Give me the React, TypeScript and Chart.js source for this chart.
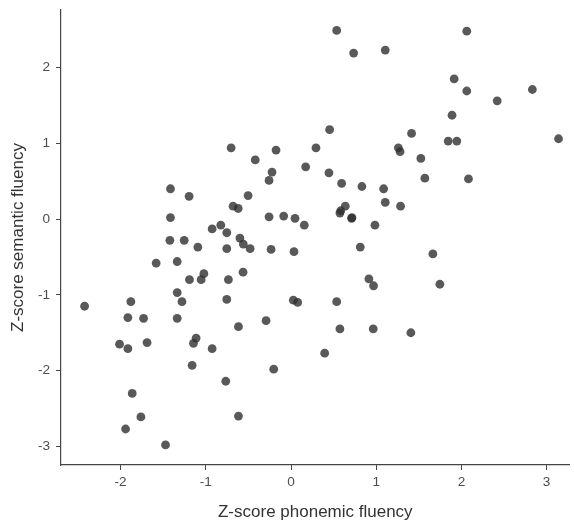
import React, { useEffect, useRef } from "react";
import { Chart, registerables } from "chart.js";

Chart.register(...registerables);

// Z-score phonemic fluency (x) and Z-score semantic fluency (y)
const phonemic: number[] = [
  0.536, 0.735, 1.106, 0.453, 1.26, 1.28, 0.293, -0.176, -0.42, 0.172,
  -0.223, -0.258, 0.445, 0.594, 0.832, 1.087, -0.504, -0.68, -0.62, 1.106,
  1.286, 0.637, 0.583, 0.574, 0.711, 0.715, -0.258, -0.086, 0.047, 0.156,
  0.985, -0.6, -0.56, -0.48, -0.234, 0.035, 0.813, -0.563, 0.914, 0.969,
  2.063, 1.915, 2.063, 2.833, 2.42, 1.89, 1.415, 1.845, 1.946, 3.14,
  1.524, 1.571, 2.083, 1.665, 1.747, -0.703, -1.415, -1.196, -1.415, -0.926,
  -0.824, -0.754, -1.422, -1.254, -1.094, -0.754, -1.583, -1.336, -1.023, -1.055,
  -1.192, -0.735, -1.336, -2.423, -1.88, -1.28, -0.754, -1.915, -1.731, -1.336,
  -0.617, -2.013, -1.915, -1.69, -1.114, -1.145, -0.926, -1.161, -0.766, -1.864,
  -1.762, -0.617, -1.942, -1.473, 0.027, 0.078, 0.536, -0.293, 0.574, 0.965,
  0.395, -0.203, 1.407,
];
const semantic: number[] = [
  2.49, 2.19, 2.23, 1.18, 0.94, 0.89, 0.94, 0.91, 0.78, 0.69,
  0.62, 0.51, 0.61, 0.47, 0.43, 0.4, 0.31, 0.17, 0.14, 0.22,
  0.17, 0.17, 0.11, 0.08, 0.01, 0.02, 0.03, 0.04, 0.01, -0.08,
  -0.08, -0.25, -0.33, -0.39, -0.4, -0.43, -0.37, -0.7, -0.79, -0.88,
  2.48, 1.85, 1.69, 1.71, 1.56, 1.37, 1.13, 1.03, 1.03, 1.06,
  0.8, 0.54, 0.53, -0.46, -0.86, 0.94, 0.4, 0.3, 0.02, -0.13,
  -0.08, -0.18, -0.28, -0.28, -0.37, -0.39, -0.58, -0.56, -0.72, -0.8,
  -0.8, -0.8, -0.97, -1.15, -1.09, -1.09, -1.06, -1.3, -1.31, -1.31,
  -1.42, -1.65, -1.71, -1.63, -1.57, -1.64, -1.71, -1.93, -2.14, -2.3,
  -2.61, -2.6, -2.77, -2.98, -1.07, -1.1, -1.09, -1.34, -1.45, -1.45,
  -1.77, -1.98, -1.5,
];

const xTicks: number[] = [-2, -1, 0, 1, 2, 3];
const yTicks: number[] = [-3, -2, -1, 0, 1, 2];
const xTitle = "Z-score phonemic fluency";
const yTitle = "Z-score semantic fluency";

export default function App() {
  const ref = useRef<HTMLCanvasElement | null>(null);

  useEffect(() => {
    if (!ref.current) return;
    const data = phonemic.map((x, i) => ({ x, y: semantic[i] }));
    const tickFont = { family: "'Liberation Sans', Arial, sans-serif", size: 13.6 };
    const titleFont = { family: "'Liberation Sans', Arial, sans-serif", size: 17 };
    const chart = new Chart(ref.current, {
      type: "scatter",
      data: {
        datasets: [
          {
            data,
            backgroundColor: "rgba(48,48,48,0.8)",
            borderWidth: 0,
            pointRadius: 4.4,
            pointHoverRadius: 4.4,
          },
        ],
      },
      options: {
        responsive: false,
        animation: false,
        devicePixelRatio: 1,
        layout: { padding: { left: 0, top: 10, right: 4, bottom: 0 } },
        plugins: { legend: { display: false }, tooltip: { enabled: false } },
        scales: {
          x: {
            type: "linear",
            min: -2.7,
            max: 3.27,
            afterBuildTicks: (axis: any) => {
              axis.ticks = xTicks.map((v) => ({ value: v }));
            },
            afterFit: (axis: any) => {
              axis.height = 58;
              axis.paddingLeft = 0;
              axis.paddingRight = 0;
            },
            ticks: { color: "#4d4d4d", font: tickFont, padding: 4, maxRotation: 0 },
            grid: {
              drawOnChartArea: false,
              drawTicks: true,
              tickLength: 5,
              tickColor: "#444",
              tickWidth: 1,
            },
            border: { display: true, color: "#444", width: 1.2 },
            title: {
              display: true,
              text: xTitle,
              color: "#333",
              font: titleFont,
              padding: { top: 2, bottom: 0 },
            },
          },
          y: {
            type: "linear",
            min: -3.245,
            max: 2.759,
            afterBuildTicks: (axis: any) => {
              axis.ticks = yTicks.map((v) => ({ value: v }));
            },
            afterFit: (axis: any) => {
              axis.width = 61;
              axis.paddingTop = 0;
              axis.paddingBottom = 0;
            },
            ticks: { color: "#4d4d4d", font: tickFont, padding: 6 },
            grid: {
              drawOnChartArea: false,
              drawTicks: true,
              tickLength: 5,
              tickColor: "#444",
              tickWidth: 1,
            },
            border: { display: true, color: "#444", width: 1.2 },
            title: {
              display: true,
              text: yTitle,
              color: "#333",
              font: titleFont,
              padding: { top: 8, bottom: 0 },
            },
          },
        },
      },
    });
    return () => chart.destroy();
  }, []);

  return (
    <div style={{ position: "fixed", left: 0, top: 0, width: 574, height: 523, background: "#fff" }}>
      <canvas ref={ref} width={574} height={523} />
    </div>
  );
}
